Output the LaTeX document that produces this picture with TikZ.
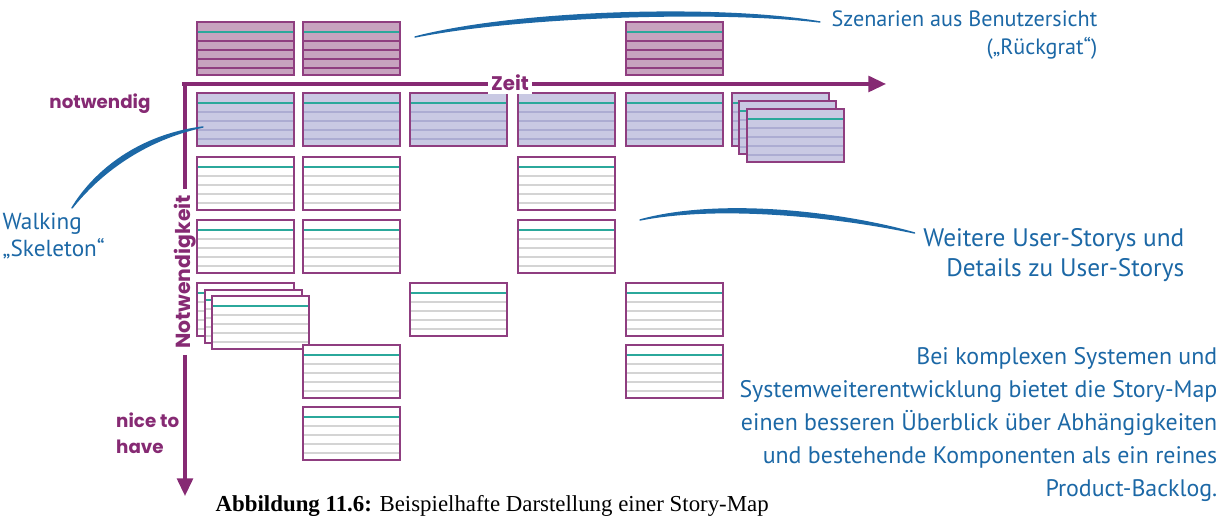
\documentclass[tikz,border=0pt]{standalone}
\usepackage{fontspec}
\setmainfont{Liberation Serif}
\newfontfamily\labelfont{Poppins}
\newfontfamily\handfont{PT Sans}
\usetikzlibrary{arrows.meta,calc}

\definecolor{cardborder}{RGB}{143,62,128}
\definecolor{axiscol}{RGB}{134,42,115}
\definecolor{backfill}{RGB}{199,163,191}
\definecolor{skelfill}{RGB}{201,201,227}
\definecolor{skelline}{RGB}{172,172,210}
\definecolor{tealline}{RGB}{43,168,155}
\definecolor{greyline}{RGB}{212,212,212}
\definecolor{penblue}{RGB}{28,104,166}

\tikzset{
  card/.style={draw=cardborder, line width=0.6pt, anchor=north west, minimum width=0.97cm, minimum height=0.53cm, inner sep=0pt, outer sep=0pt},
  backbone/.style={card, fill=backfill},
  skeleton/.style={card, fill=skelfill},
  detail/.style={card, fill=white},
  firstline/.style={draw=tealline, line width=0.6pt},
  backline/.style={draw=cardborder, line width=0.6pt},
  skelrule/.style={draw=skelline, line width=0.6pt},
  greyrule/.style={draw=greyline, line width=0.6pt},
  axis/.style={draw=axiscol, line width=0.9pt},
  axislabel/.style={text=axiscol, font=\labelfont\bfseries\fontsize{5.2}{7.4}\selectfont, inner sep=1pt},
  note/.style={text=penblue, align=right, inner sep=0pt},
  pen/.style={fill=penblue, draw=penblue, line width=0.4pt, line cap=round, line join=round}
}

% name, x, y, card style, rule style
\newcommand{\storycard}[5]{%
  \node[#4] (#1) at (#2,#3) {};
  \draw[firstline] ($(#1.north west)+(0,10)$) -- ($(#1.north east)+(0,10)$);
  \foreach \d in {19,28,37,46}
    \draw[#5] ($(#1.north west)+(0,\d)$) -- ($(#1.north east)+(0,\d)$);
  \draw[draw=cardborder, line width=0.6pt] (#1.north west) rectangle (#1.south east);
}

\begin{document}
\begin{tikzpicture}[x=0.01cm, y=-0.01cm]
\useasboundingbox (0,0) rectangle (1224,516);

% backbone
\storycard{bb1}{197}{22}{backbone}{backline}
\storycard{bb2}{303}{22}{backbone}{backline}
\storycard{bb5}{626}{22}{backbone}{backline}

% walking skeleton
\storycard{sk1}{197}{93}{skeleton}{skelrule}
\storycard{sk2}{303}{93}{skeleton}{skelrule}
\storycard{sk3}{410}{93}{skeleton}{skelrule}
\storycard{sk4}{518}{93}{skeleton}{skelrule}
\storycard{sk5}{626}{93}{skeleton}{skelrule}
\storycard{sk6a}{732}{93}{skeleton}{skelrule}
\storycard{sk6b}{739}{101}{skeleton}{skelrule}
\storycard{sk6c}{747}{109}{skeleton}{skelrule}

% details
\storycard{dt31}{197}{157}{detail}{greyrule}
\storycard{dt32}{303}{157}{detail}{greyrule}
\storycard{dt34}{518}{157}{detail}{greyrule}
\storycard{dt41}{197}{220}{detail}{greyrule}
\storycard{dt42}{303}{220}{detail}{greyrule}
\storycard{dt44}{518}{220}{detail}{greyrule}
\storycard{dt51a}{197}{283}{detail}{greyrule}
\storycard{dt51b}{205}{290}{detail}{greyrule}
\storycard{dt51c}{212}{296}{detail}{greyrule}
\storycard{dt53}{410}{283}{detail}{greyrule}
\storycard{dt55}{626}{283}{detail}{greyrule}
\storycard{dt62}{303}{345}{detail}{greyrule}
\storycard{dt65}{626}{345}{detail}{greyrule}
\storycard{dt72}{303}{407}{detail}{greyrule}

% axes
\coordinate (origin) at (185,84);
\coordinate (timestart) at (182,84);
\coordinate (timeend) at (886,84);
\coordinate (needend) at (185,496);
\draw[axis, -{Triangle[length=5pt, width=4.5pt]}] (timestart) -- (timeend);
\node[axislabel, fill=white, font=\labelfont\bfseries\fontsize{5.6}{7}\selectfont] (zeit) at (510,83) {Zeit};
\node[axislabel, rotate=90, font=\labelfont\bfseries\fontsize{5.8}{7}\selectfont, inner sep=1.5pt] (need) at (185,272) {Notwendigkeit};
\draw[axis] (origin) -- (need.east);
\draw[axis, -{Triangle[length=5pt, width=4.5pt]}] (need.west) -- (needend);
\node[axislabel] (must) at (100,104) {notwendig};
\node[axislabel, align=left, anchor=west] (nice) at (112,433) {nice to\\have};

% notes
\node[note, anchor=north east, font=\handfont\fontsize{6.3}{8}\selectfont] (scen) at (1098,10) {Szenarien aus Benutzersicht\\(„Rückgrat“)};
\node[note, align=left, anchor=north west, font=\handfont\fontsize{6.6}{7.8}\selectfont] (walk) at (2,212) {Walking\\„Skeleton“};
\node[note, anchor=north east, font=\handfont\fontsize{7.2}{8.6}\selectfont] (more) at (1185,228) {Weitere User-Storys und\\Details zu User-Storys};
\node[note, anchor=north east, font=\handfont\fontsize{6.8}{9.4}\selectfont] (complex) at (1218,347) {Bei komplexen Systemen und\\Systemweiterentwicklung bietet die Story-Map\\einen besseren Überblick über Abhängigkeiten\\und bestehende Komponenten als ein reines\\Product-Backlog.};

\coordinate (scenpen) at ($(scen.north west)+(-11,12)$);
\coordinate (walkpen) at (72,208);
\coordinate (morepen) at ($(more.north west)+(-8,5)$);
\coordinate (bbtip) at (415,37);
\coordinate (sktip) at (203,127);
\coordinate (dttip) at (640,220);
\draw[pen] (scenpen) .. controls (720,5) and (520,10) .. (bbtip) .. controls (520,16) and (720,10) .. (scenpen) -- cycle;
\draw[pen] (walkpen) .. controls (95,170) and (140,135) .. (sktip) .. controls (143,140) and (99,174) .. (walkpen) -- cycle;
\draw[pen] (morepen) .. controls (840,212) and (720,198) .. (dttip) .. controls (720,204) and (840,217) .. (morepen) -- cycle;

% caption
\node[anchor=base west, inner sep=0pt, font=\fontsize{6.5}{7}\selectfont] (caption) at (215,512) {\textbf{Abbildung 11.6:} Beispielhafte Darstellung einer Story-Map};
\end{tikzpicture}
\end{document}
